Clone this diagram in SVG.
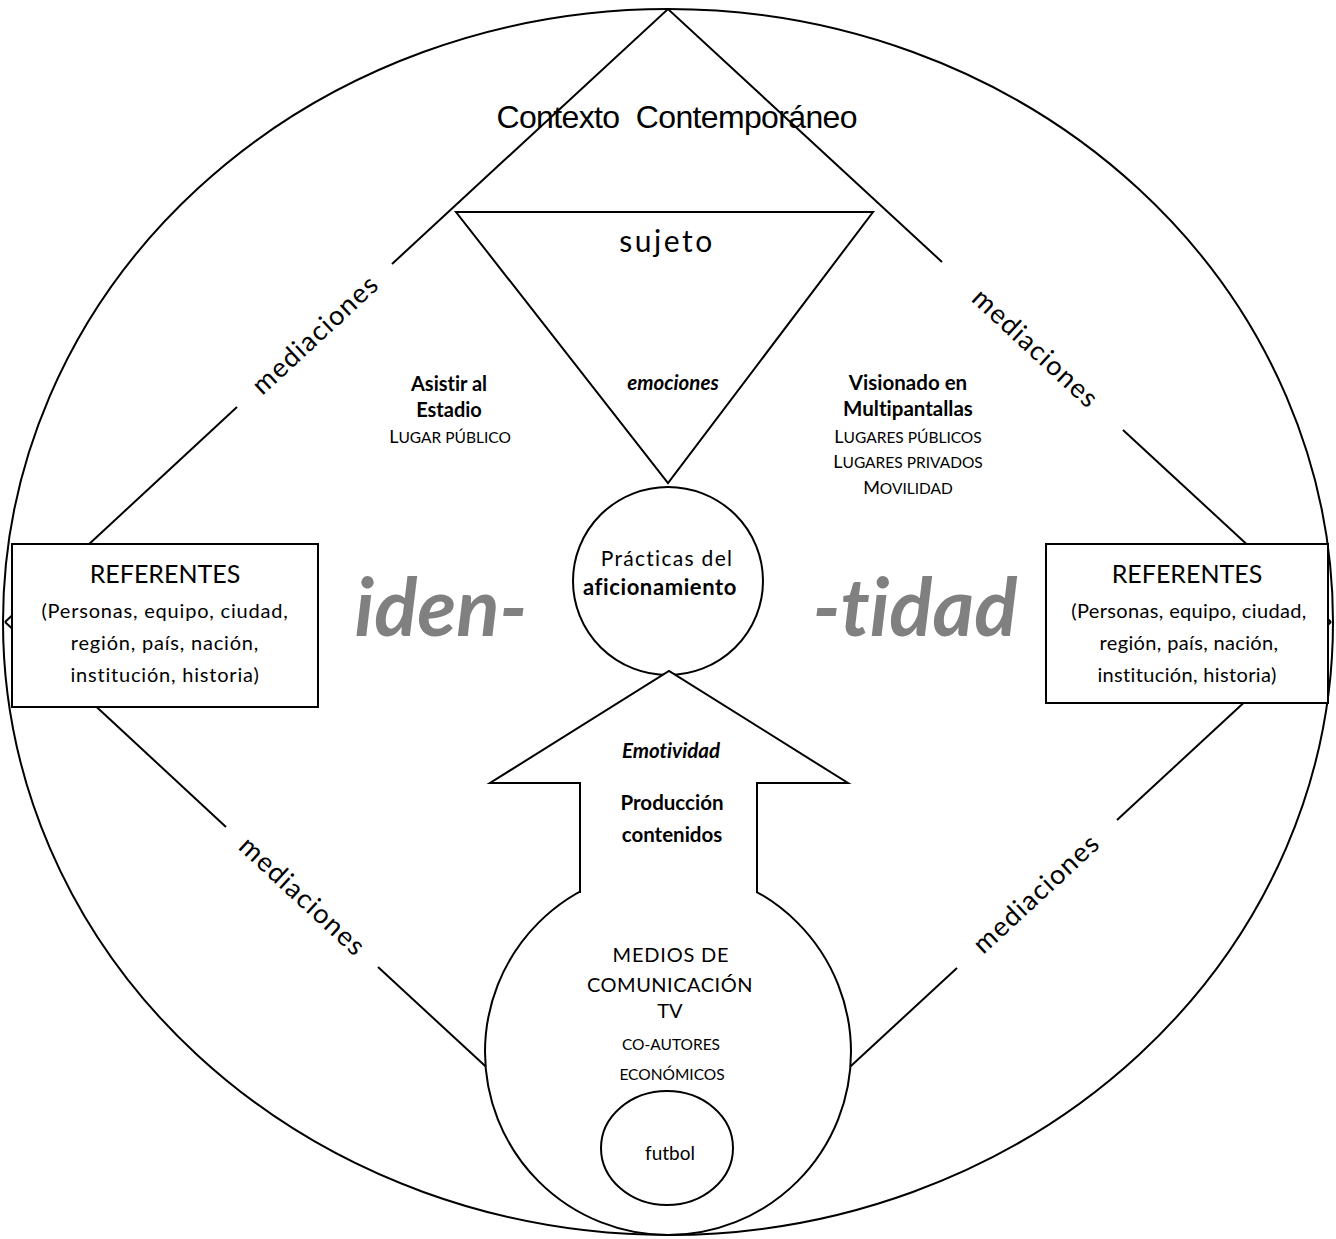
<svg xmlns="http://www.w3.org/2000/svg" width="1336" height="1239" viewBox="0 0 1336 1239">
<style>
.ln{stroke:#000;stroke-width:2;fill:none}
.sh{stroke:#000;stroke-width:2;fill:#fff}
.t{font-family:Lato,"Open Sans","DejaVu Sans",sans-serif;fill:#000;text-anchor:middle;font-variant-ligatures:none}
.b{font-weight:bold}
.i{font-style:italic}
.med{font-size:27px}
.big{font-family:Lato,"Open Sans",sans-serif;font-weight:bold;font-style:italic;font-size:80px;fill:#808080;font-variant-ligatures:none}
</style>
<rect width="1336" height="1239" fill="#fff"/>
<g id="contexto">
<ellipse class="sh" cx="668" cy="622" rx="665" ry="613"/>
<text x="677" y="128" font-family="'Liberation Sans',Arial,sans-serif" font-size="32" text-anchor="middle" style="white-space:pre" textLength="361">Contexto  Contemporáneo</text>
</g>
<g id="connectors">
<polyline class="ln" points="392,264 668,9 942,262"/>
<line class="ln" x1="237" y1="407" x2="5" y2="622"/>
<line class="ln" x1="1123" y1="430" x2="1331" y2="622"/>
<line class="ln" x1="5" y1="622" x2="226" y2="827"/>
<line class="ln" x1="378" y1="967" x2="668" y2="1235"/>
<line class="ln" x1="1331" y1="622" x2="1117" y2="820"/>
<line class="ln" x1="957" y1="968" x2="668" y2="1235"/>
<g class="t med">
<text transform="translate(315,335) rotate(-42.76)" y="9" textLength="160">mediaciones</text>
<text transform="translate(1035,348) rotate(42.76)" y="9" textLength="160">mediaciones</text>
<text transform="translate(302,896) rotate(42.76)" y="9" textLength="160">mediaciones</text>
<text transform="translate(1036,894) rotate(-42.76)" y="9" textLength="160">mediaciones</text>
</g>
</g>
<g id="sujeto">
<polygon class="sh" points="456,212 873,212 668,483"/>
<text class="t" x="667" y="252" font-size="30" letter-spacing="2.5">sujeto</text>
<text class="t b i" x="673" y="390" font-size="20.5">emociones</text>
</g>
<g id="referentes-izq">
<rect class="sh" x="12" y="544" width="306" height="163"/>
<text class="t" x="165" y="583" font-size="25">REFERENTES</text>
<text class="t" x="165" y="618" font-size="20" letter-spacing="0.8">(Personas, equipo, ciudad,</text>
<text class="t" x="165" y="650" font-size="20" letter-spacing="0.8">región, país, nación,</text>
<text class="t" x="165" y="682" font-size="20" letter-spacing="0.8">institución, historia)</text>
</g>
<g id="referentes-der">
<rect class="sh" x="1046" y="544" width="282" height="159"/>
<text class="t" x="1187" y="583" font-size="25">REFERENTES</text>
<text class="t" x="1189" y="618" font-size="20" letter-spacing="0.35">(Personas, equipo, ciudad,</text>
<text class="t" x="1189" y="650" font-size="20" letter-spacing="0.35">región, país, nación,</text>
<text class="t" x="1187" y="682" font-size="20" letter-spacing="0.35">institución, historia)</text>
</g>
<g id="estadio">
<text class="t b" x="449" y="391" font-size="20">Asistir al</text>
<text class="t b" x="449" y="417" font-size="20">Estadio</text>
<text class="t" x="450" y="443" font-size="18">L<tspan font-size="15.5">UGAR PÚBLICO</tspan></text>
</g>
<g id="multipantallas">
<text class="t b" x="908" y="390" font-size="20.5">Visionado en</text>
<text class="t b" x="908" y="416" font-size="20.5">Multipantallas</text>
<text class="t" x="908" y="443" font-size="18">L<tspan font-size="15.5">UGARES PÚBLICOS</tspan></text>
<text class="t" x="908" y="468" font-size="18">L<tspan font-size="15.5">UGARES PRIVADOS</tspan></text>
<text class="t" x="908" y="494" font-size="18">M<tspan font-size="15.5">OVILIDAD</tspan></text>
</g>
<g id="identidad">
<text class="big" x="441" y="636" text-anchor="middle">iden-</text>
<text class="big" x="915" y="636" text-anchor="middle">-tidad</text>
</g>
<g id="practicas">
<ellipse class="sh" cx="668" cy="581" rx="95" ry="94"/>
<text class="t" x="667" y="566" font-size="21" letter-spacing="1.3">Prácticas del</text>
<text class="t b" x="660" y="595" font-size="22" letter-spacing="0.6">aficionamiento</text>
</g>
<g id="medios">
<circle class="sh" cx="668" cy="1052" r="183"/>
<polygon fill="#fff" stroke="none" points="581,897 581,783 490,783 669,671 848,783 756,783 756,897"/>
<polyline class="ln" points="580,893 580,783 490,783 669,671 848,783 757,783 757,893"/>
<text class="t i b" x="671" y="758" font-size="20.5">Emotividad</text>
<text class="t b" x="672" y="810" font-size="20.5">Producción</text>
<text class="t b" x="672" y="842" font-size="20.5">contenidos</text>
<text class="t" x="671" y="962" font-size="20" letter-spacing="0.8">MEDIOS DE</text>
<text class="t" x="670" y="992" font-size="20" letter-spacing="0.5">COMUNICACIÓN</text>
<text class="t" x="670" y="1018" font-size="20">TV</text>
<text class="t" x="671" y="1050" font-size="15.5">CO-AUTORES</text>
<text class="t" x="672" y="1080" font-size="15.5">ECONÓMICOS</text>
</g>
<g id="futbol">
<ellipse class="sh" cx="667" cy="1148" rx="66" ry="57"/>
<text class="t" x="670" y="1160" font-size="19">futbol</text>
</g>
</svg>
